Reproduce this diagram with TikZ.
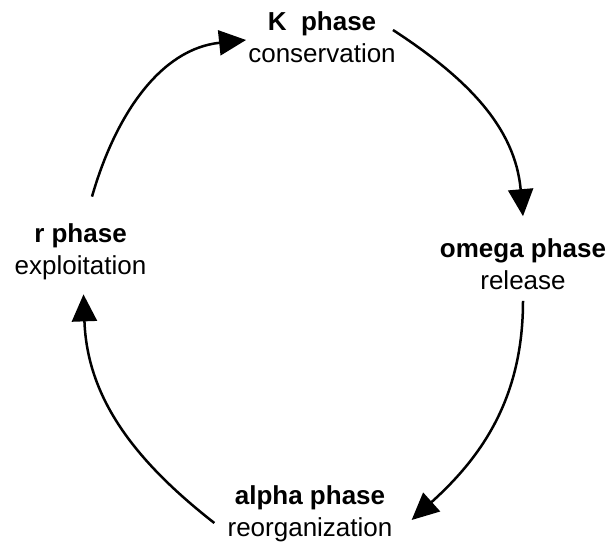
\documentclass[tikz,border=0pt]{standalone}
\usepackage{fontspec}
\setmainfont{Liberation Sans}
\usetikzlibrary{arrows.meta}

\begin{document}
\begin{tikzpicture}[x=1pt, y=1pt, ->, >={Triangle[length=27pt,width=25pt]}, line width=2.5pt,
  every node/.style={align=center, inner sep=0pt, font=\fontsize{26}{32}\selectfont}]
\path[use as bounding box] (0,0) rectangle (612,544);
\node (K) at (322,507) {\textbf{K\ \ phase}\\conservation};
\node (omega) at (523,280) {\textbf{omega phase}\\release};
\node (alpha) at (310,30) {\textbf{alpha phase}\\reorganization};
\node (r) at (80.5,292) {\textbf{r phase}\\exploitation};
\path ([shift={(11.5,26)}]r.north) edge[out=74, in=186] ([shift={(-1,-3)}]K.west);
\path ([shift={(-4,7)}]K.east) edge[out=-33, in=95] ([shift={(0,21)}]omega.north);
\path ([shift={(0,-10)}]omega.south) edge[out=-90, in=42] ([shift={(18,-6)}]alpha.east);
\path ([shift={(-12,-9)}]alpha.west) edge[out=142, in=-88] ([shift={(3,-13)}]r.south);
\end{tikzpicture}
\end{document}
